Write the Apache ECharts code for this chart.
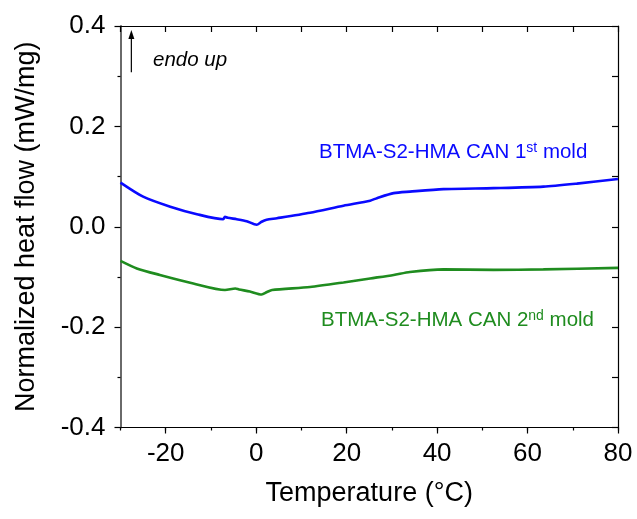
<!DOCTYPE html>
<html>
<head>
<meta charset="utf-8">
<script src="https://cdn.jsdelivr.net/npm/echarts@6/dist/echarts.min.js"></script>
<style>html,body{margin:0;padding:0;background:#fff}#c{width:637px;height:519px}</style>
</head>
<body>
<div id="c"></div>
<script>
// Temperature (°C) and normalized heat flow (mW/mg)
const mold1Temp = [-30, -25, -19, -13.1, -7.3, -6.9, -6.3, -4.3, -2.1, 0.1, 1.2, 2.3, 4.6, 11.9, 19.3, 25.2, 26.7, 30.4, 34.0, 41.4, 52.5, 63.5, 70.9, 80];
const mold1Flow = [0.088, 0.060, 0.040, 0.025, 0.015, 0.020, 0.018, 0.015, 0.011, 0.004, 0.010, 0.014, 0.017, 0.028, 0.042, 0.052, 0.057, 0.067, 0.070, 0.075, 0.077, 0.080, 0.086, 0.095];
const mold2Temp = [-30, -26.4, -21.3, -13.9, -6.9, -4.6, -3.8, -1.4, 1.2, 2.4, 3.5, 11.9, 19.3, 25.2, 30.4, 34.0, 41.4, 52.5, 63.5, 80];
const mold2Flow = [-0.068, -0.083, -0.096, -0.113, -0.126, -0.123, -0.125, -0.129, -0.135, -0.130, -0.126, -0.120, -0.111, -0.103, -0.096, -0.090, -0.085, -0.086, -0.085, -0.082];
const xMajorTicks = [-20, 0, 20, 40, 60, 80];
const yTicks = [-0.4, -0.2, 0.0, 0.2, 0.4];
const label1 = ['BTMA-S2-HMA CAN 1', 'st', ' mold'];
const label2 = ['BTMA-S2-HMA CAN 2', 'nd', ' mold'];

const font = 'Liberation Sans, Arial, sans-serif';
const pair = (xs, ys) => xs.map((x, i) => [x, ys[i]]);
const blue = '#0a0aff', green = '#1f8c1f';
const gridRect = {left: 120.5, right: 19, top: 26, bottom: 91.5, containLabel: false};

const chart = echarts.init(document.getElementById('c'), null, {renderer: 'canvas'});
const option = {
  animation: false,
  backgroundColor: '#fff',
  grid: [Object.assign({}, gridRect), Object.assign({}, gridRect)],
  xAxis: [{
    gridIndex: 0, type: 'value', min: -30, max: 80, interval: 10, position: 'bottom',
    name: 'Temperature (°C)', nameLocation: 'middle', nameGap: 53,
    nameTextStyle: {fontFamily: font, fontSize: 27, color: '#000'},
    axisLine: {show: true, onZero: false, lineStyle: {color: '#000', width: 1.2}},
    axisTick: {show: true, inside: false, length: 6, customValues: xMajorTicks, lineStyle: {color: '#000', width: 1.2}},
    axisLabel: {fontFamily: font, fontSize: 26, color: '#000', margin: 13, customValues: xMajorTicks,
      formatter: v => xMajorTicks.includes(v) ? String(v) : ''},
    splitLine: {show: false}
  }, {
    gridIndex: 0, type: 'value', min: -30, max: 80, interval: 10, position: 'top',
    axisLine: {show: true, onZero: false, lineStyle: {color: '#000', width: 1.2}},
    axisTick: {show: true, inside: true, length: 6, lineStyle: {color: '#000', width: 1.2}},
    axisLabel: {show: false}, splitLine: {show: false}
  }, {
    // minor ticks on the bottom axis
    gridIndex: 1, type: 'value', min: -30, max: 80, interval: 10, position: 'bottom',
    axisLine: {show: false, onZero: false},
    axisTick: {show: true, inside: false, length: 3, lineStyle: {color: '#000', width: 1.2}},
    axisLabel: {show: false}, splitLine: {show: false}
  }],
  yAxis: [{
    gridIndex: 0, type: 'value', min: -0.4, max: 0.4, interval: 0.2, position: 'left',
    name: 'Normalized heat flow (mW/mg)', nameLocation: 'middle', nameGap: 80,
    nameTextStyle: {fontFamily: font, fontSize: 27, color: '#000'},
    axisLine: {show: true, onZero: false, lineStyle: {color: '#6a6a6a', width: 2}},
    axisTick: {show: true, inside: false, length: 6, lineStyle: {color: '#000', width: 1.2}},
    minorTick: {show: true, splitNumber: 2, length: 3, lineStyle: {color: '#000', width: 1.2}},
    axisLabel: {fontFamily: font, fontSize: 26, color: '#000', margin: 15,
      formatter: v => (Math.round(v * 10) / 10).toFixed(1)},
    splitLine: {show: false}
  }, {
    gridIndex: 0, type: 'value', min: -0.4, max: 0.4, interval: 0.1, position: 'right',
    axisLine: {show: true, onZero: false, lineStyle: {color: '#000', width: 1.2}},
    axisTick: {show: true, inside: true, length: 6, lineStyle: {color: '#000', width: 1.2}},
    axisLabel: {show: false}, splitLine: {show: false}
  }, {
    gridIndex: 1, type: 'value', min: -0.4, max: 0.4, show: false
  }],
  series: [{
    type: 'line', name: 'mold1', xAxisIndex: 0, yAxisIndex: 0, data: pair(mold1Temp, mold1Flow), showSymbol: false,
    lineStyle: {color: blue, width: 2.6}, smooth: 0.25
  }, {
    type: 'line', name: 'mold2', xAxisIndex: 0, yAxisIndex: 0, data: pair(mold2Temp, mold2Flow), showSymbol: false,
    lineStyle: {color: green, width: 2.6}, smooth: 0.25
  }]
};
chart.setOption(option);

// annotations
const p = (x, y) => chart.convertToPixel({xAxisIndex: 0, yAxisIndex: 0}, [x, y]);
const a0 = p(-27.6, 0.308), a1 = p(-27.6, 0.392);
const richFor = c => ({
  a: {fontFamily: font, fontSize: 20.5, fill: c, color: c, lineHeight: 26, verticalAlign: 'bottom'},
  s: {fontFamily: font, fontSize: 14, fill: c, color: c, lineHeight: 26, verticalAlign: 'bottom', padding: [0, 0, 8, 0]}
});
chart.setOption({
  graphic: [
    {type: 'line', shape: {x1: a0[0], y1: a0[1], x2: a1[0], y2: a1[1] + 6}, style: {stroke: '#000', lineWidth: 1.2}},
    {type: 'polygon', shape: {points: [[a1[0], a1[1]], [a1[0] - 3, a1[1] + 9], [a1[0] + 3, a1[1] + 9]]}, style: {fill: '#000'}},
    {type: 'text', left: 153, top: 50, style: {text: 'endo up', font: 'italic 20.5px ' + font, fill: '#000'}},
    {type: 'text', left: 319, top: 141, style: {
      text: '{a|' + label1[0] + '}{s|' + label1[1] + '}{a|' + label1[2] + '}', rich: richFor(blue)}},
    {type: 'text', left: 321, top: 309, style: {
      text: '{a|' + label2[0] + '}{s|' + label2[1] + '}{a|' + label2[2] + '}', rich: richFor(green)}}
  ]
});
</script>
</body>
</html>
